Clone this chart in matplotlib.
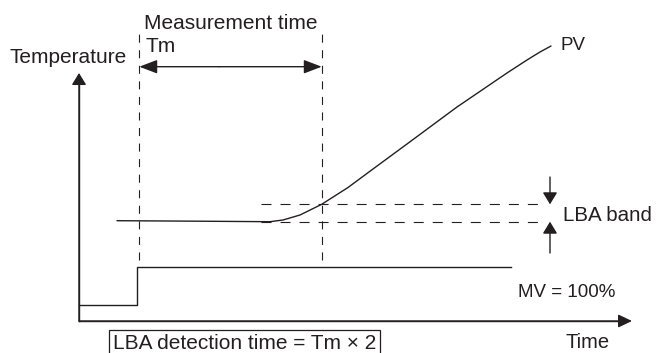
import matplotlib
matplotlib.use("Agg")
import matplotlib.pyplot as plt

plt.rcParams["font.family"] = ["Liberation Sans", "DejaVu Sans"]
plt.rcParams["lines.scale_dashes"] = False

INK = "#231f20"

# --- diagram values (time units along x, temperature / output units along y) ---
pv_time = [38, 120, 191, 204, 221, 242.7, 269, 294, 328, 378, 428, 448, 461, 472]
pv_temp = [100.3, 99.8, 99.3, 101, 106, 116.7, 133.5, 152, 177, 214, 248, 261, 269, 275]

mv_time = [0, 58.3, 58.3, 431.7]
mv_out = [16, 16, 53.7, 53.7]

tm_start, tm_end = 60.3, 242.7          # measurement window Tm
tm_span = (61, 291)                     # vertical extent of the window markers
tm_arrow_y = 254.3

band_low, band_high = 99.3, 116.7       # LBA band
band_x = (182, 466)
band_arrow_x = 471
band_arrow_reach = (144, 68)            # tails of the upper / lower band arrows

time_axis_end = 553
temp_axis_end = 248

fig = plt.figure(figsize=(6.56, 3.53), dpi=100)
ax = fig.add_axes([0, 0, 1, 1])
ax.set_xlim(-79, 577)
ax.set_ylim(-32, 321)
ax.axis("off")


def arrow(tail, tip, hl=0.4, hw=0.2, lw=1.0):
    ax.annotate(
        "", xy=tip, xytext=tail,
        arrowprops=dict(arrowstyle=f"-|>,head_length={hl},head_width={hw}",
                        mutation_scale=20, lw=lw, color=INK,
                        shrinkA=0, shrinkB=0),
    )


# axes
ax.plot([0, 0], [temp_axis_end - 5, 0], color=INK, lw=1.0)
ax.plot([0, time_axis_end - 5], [0, 0], color=INK, lw=1.0)
arrow((0, 0), (0, temp_axis_end), hl=0.36, hw=0.22)
arrow((0, 0), (time_axis_end, 0), hl=0.42, hw=0.2)

# measurement window
for x in (tm_start, tm_end):
    ax.plot([x, x], tm_span, color=INK, lw=0.8, dashes=(5.8, 5.4))
arrow((tm_start + 80, tm_arrow_y), (tm_start, tm_arrow_y), hl=0.55, hw=0.21)
arrow((tm_start + 80, tm_arrow_y), (tm_end, tm_arrow_y), hl=0.55, hw=0.21)

# LBA band
for y in (band_low, band_high):
    ax.plot(band_x, [y, y], color=INK, lw=0.8, dashes=(7.2, 6.5))
arrow((band_arrow_x, band_arrow_reach[0]), (band_arrow_x, band_high), hl=0.36, hw=0.22)
arrow((band_arrow_x, band_arrow_reach[1]), (band_arrow_x, band_low), hl=0.36, hw=0.22)

# PV and MV traces
ax.plot(pv_time, pv_temp, color=INK, lw=1.0, solid_capstyle="round",
        solid_joinstyle="round")
ax.plot(mv_time, mv_out, color=INK, lw=1.0)

# labels
txt = dict(color=INK, va="baseline", ha="left")
ax.text(-70, 258, "Temperature", fontsize=15, **txt)
ax.text(65, 292, "Measurement time", fontsize=15, **txt)
ax.text(66, 269, "Tm", fontsize=15, **txt)
ax.text(481, 271, "PV", fontsize=13.5, **txt)
ax.text(484, 100, "LBA band", fontsize=14.8, **txt)
ax.text(439, 24, "MV = 100%", fontsize=13.5, **txt)
ax.text(486, -27, "Time", fontsize=14.5, **txt)
ax.text(34, -28, "LBA detection time = Tm \u00d7 2", fontsize=15,
        bbox=dict(boxstyle="square,pad=0.2", fc="white", ec=INK, lw=0.9), **txt)

fig.savefig("out.png", dpi=100)
